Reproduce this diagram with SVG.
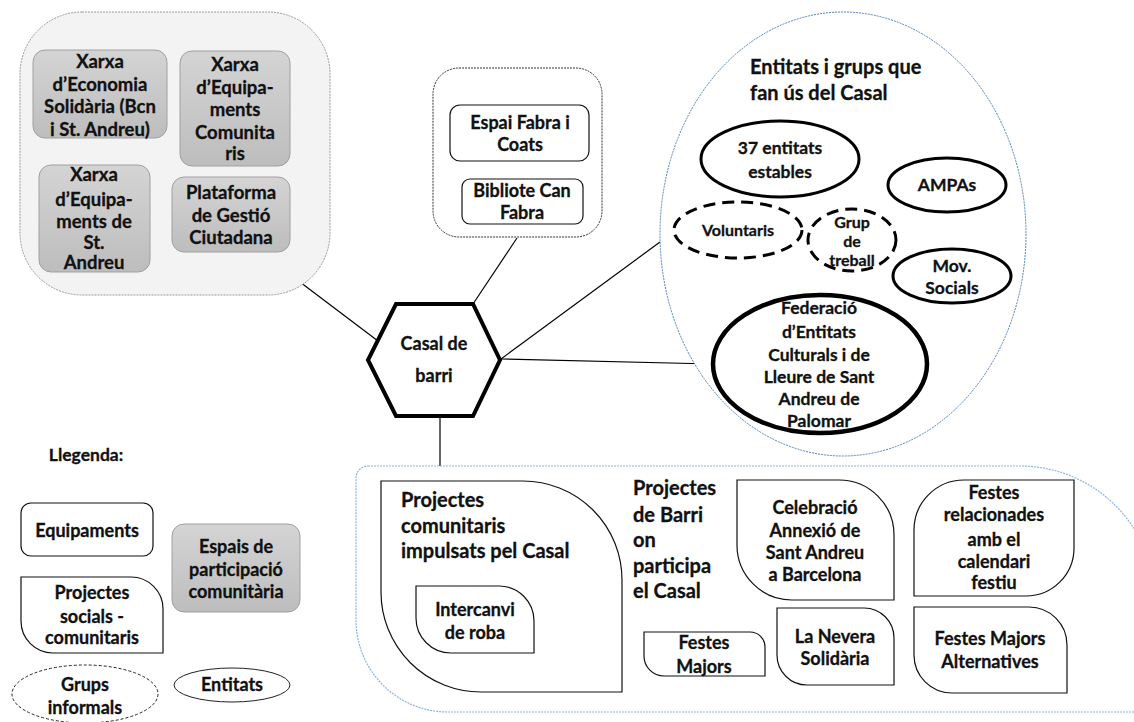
<svg xmlns="http://www.w3.org/2000/svg" width="1134" height="722" viewBox="0 0 1134 722">
<defs>
<linearGradient id="gray" x1="0" y1="0" x2="0" y2="1">
<stop offset="0" stop-color="#d4d4d4"/>
<stop offset="1" stop-color="#bdbdbd"/>
</linearGradient>
</defs>
<style>
text{font-family:Lato,"Liberation Sans",sans-serif;font-weight:bold;fill:#111;stroke:#111;stroke-width:0.3;text-anchor:middle}
.t16{font-size:16px}
.t175{font-size:17.5px}
.t18{font-size:18px}
.t185{font-size:18.5px}
.t20{font-size:20px}
.l{text-anchor:start}
.gbox{fill:url(#gray);stroke:#a0a0a0;stroke-width:1}
.wbox{fill:#fff;stroke:#111;stroke-width:1.2}
.thick{fill:#fff;stroke:#000;stroke-width:3}
.dash{fill:#fff;stroke:#000;stroke-width:3;stroke-dasharray:12 7}
.conn{stroke:#000;stroke-width:1.2;fill:none}
</style>
<rect width="1134" height="722" fill="#fff"/>

<g id="connectors">
<line class="conn" x1="292" y1="276" x2="378" y2="341"/>
<line class="conn" x1="517" y1="238" x2="473" y2="304"/>
<line class="conn" x1="501" y1="359" x2="660" y2="242"/>
<line class="conn" x1="501" y1="359" x2="712" y2="364"/>
<line class="conn" x1="440" y1="416" x2="440" y2="466"/>
</g>

<g id="xarxes">
<rect x="20" y="12" width="310" height="283" rx="62" fill="#f3f3f3" stroke="#9a9a9a" stroke-width="1" stroke-dasharray="2 1"/>
<g id="xarxa-economia">
<rect class="gbox" x="33" y="50" width="134" height="88" rx="12"/>
<text class="t185" x="100" y="68">Xarxa</text>
<text class="t185" x="100" y="91">d’Economia</text>
<text class="t185" x="100" y="113">Solidària (Bcn</text>
<text class="t185" x="100" y="136">i St. Andreu)</text>
</g>
<g id="xarxa-equip-comunitaris">
<rect class="gbox" x="180" y="51" width="110" height="115" rx="12"/>
<text class="t185" x="235" y="71">Xarxa</text>
<text class="t185" x="235" y="94">d’Equipa-</text>
<text class="t185" x="235" y="116">ments</text>
<text class="t185" x="235" y="139">Comunita</text>
<text class="t185" x="235" y="160">ris</text>
</g>
<g id="xarxa-equip-standreu">
<rect class="gbox" x="39" y="165" width="111" height="107" rx="12"/>
<text class="t185" x="94" y="181">Xarxa</text>
<text class="t185" x="94" y="206">d’Equipa-</text>
<text class="t185" x="94" y="228">ments de</text>
<text class="t185" x="94" y="249">St.</text>
<text class="t185" x="94" y="269">Andreu</text>
</g>
<g id="plataforma">
<rect class="gbox" x="172" y="177" width="118" height="75" rx="12"/>
<text class="t185" x="231" y="199">Plataforma</text>
<text class="t185" x="231" y="222">de Gestió</text>
<text class="t185" x="231" y="244">Ciutadana</text>
</g>
</g>

<g id="equipaments">
<rect x="433" y="68" width="169" height="169" rx="26" fill="#fff" stroke="#333" stroke-width="1" stroke-dasharray="2 1"/>
<g id="espai-fabra">
<rect class="wbox" x="450" y="105" width="139" height="56" rx="10"/>
<text class="t18" x="520" y="129">Espai Fabra i</text>
<text class="t18" x="520" y="151">Coats</text>
</g>
<g id="biblioteca">
<rect class="wbox" x="462" y="179" width="121" height="45" rx="8"/>
<text class="t18" x="522" y="197">Bibliote Can</text>
<text class="t18" x="522" y="219">Fabra</text>
</g>
</g>

<g id="casal">
<polygon points="396,304 473,304 500,360 473,416 396,416 368,360" fill="#fff" stroke="#000" stroke-width="4" stroke-linejoin="miter"/>
<text class="t18" x="434" y="350">Casal de</text>
<text class="t18" x="434" y="382">barri</text>
</g>

<g id="entitats">
<ellipse cx="843" cy="234" rx="183" ry="222" fill="#fff" stroke="#4f81bd" stroke-width="1" stroke-dasharray="2 1"/>
<text class="t20 l" x="750" y="74">Entitats i grups que</text>
<text class="t20 l" x="750" y="100">fan ús del Casal</text>
<g id="e37">
<ellipse class="thick" cx="780" cy="159" rx="79" ry="38"/>
<text class="t175" x="780" y="154">37 entitats</text>
<text class="t175" x="780" y="178">estables</text>
</g>
<g id="ampas">
<ellipse class="thick" cx="947" cy="185" rx="59" ry="27"/>
<text class="t175" x="947" y="191">AMPAs</text>
</g>
<g id="voluntaris">
<ellipse class="dash" cx="738" cy="230" rx="64" ry="28"/>
<text class="t16" x="738" y="236">Voluntaris</text>
</g>
<g id="grup-treball">
<ellipse class="dash" cx="852" cy="240" rx="44" ry="31"/>
<text class="t16" x="852" y="228">Grup</text>
<text class="t16" x="852" y="247">de</text>
<text class="t16" x="852" y="266">treball</text>
</g>
<g id="mov-socials">
<ellipse class="thick" cx="952" cy="276" rx="59" ry="27"/>
<text class="t175" x="952" y="272">Mov.</text>
<text class="t175" x="952" y="294">Socials</text>
</g>
<g id="federacio">
<ellipse cx="820" cy="364" rx="107" ry="69" fill="#fff" stroke="#000" stroke-width="4.5"/>
<text class="t175" x="819" y="314">Federació</text>
<text class="t175" x="819" y="338">d’Entitats</text>
<text class="t175" x="819" y="361">Culturals i de</text>
<text class="t175" x="819" y="383">Lleure de Sant</text>
<text class="t175" x="819" y="405">Andreu de</text>
<text class="t175" x="819" y="427">Palomar</text>
</g>
</g>

<g id="projectes">
<path d="M368,466 H1020 A135 135 0 0 1 1155 601 V712 H448 A92 92 0 0 1 356 620 V478 A12 12 0 0 1 368 466 Z" fill="#fff" stroke="#8db4e2" stroke-width="1.2" stroke-dasharray="2 1"/>
<g id="proj-casal">
<path class="wbox" d="M381,481 H523 A99 99 0 0 1 622 580 V692 H481 A100 100 0 0 1 381 592 Z"/>
<text class="t20 l" x="401" y="507">Projectes</text>
<text class="t20 l" x="401" y="533">comunitaris</text>
<text class="t20 l" x="401" y="558">impulsats pel Casal</text>
</g>
<g id="intercanvi">
<path class="wbox" d="M416,586 H499 A35 35 0 0 1 534 621 V653 H451 A35 35 0 0 1 416 618 Z"/>
<text class="t18" x="475" y="616">Intercanvi</text>
<text class="t18" x="475" y="639">de roba</text>
</g>
<text class="t20 l" x="633" y="495">Projectes</text>
<text class="t20 l" x="633" y="522">de Barri</text>
<text class="t20 l" x="633" y="547">on</text>
<text class="t20 l" x="633" y="573">participa</text>
<text class="t20 l" x="633" y="598">el Casal</text>
<g id="festes-majors">
<path class="wbox" d="M644,632 H750 A15 15 0 0 1 765 647 V676 H664 A20 20 0 0 1 644 656 Z"/>
<text class="t18" x="704" y="649">Festes</text>
<text class="t18" x="704" y="673">Majors</text>
</g>
<g id="celebracio">
<path class="wbox" d="M737,480 H839 A55 55 0 0 1 894 535 V600 H792 A55 55 0 0 1 737 545 Z"/>
<text class="t18" x="815" y="514">Celebració</text>
<text class="t18" x="815" y="537">Annexió de</text>
<text class="t18" x="815" y="559">Sant Andreu</text>
<text class="t18" x="815" y="581">a Barcelona</text>
</g>
<g id="festes-relacionades">
<path class="wbox" d="M964,480 H1074 V548 A48 48 0 0 1 1026 596 H914 V530 A50 50 0 0 1 964 480 Z"/>
<text class="t18" x="994" y="499">Festes</text>
<text class="t18" x="994" y="521">relacionades</text>
<text class="t18" x="994" y="546">amb el</text>
<text class="t18" x="994" y="568">calendari</text>
<text class="t18" x="994" y="589">festiu</text>
</g>
<g id="nevera">
<path class="wbox" d="M777,608 H864 A30 30 0 0 1 894 638 V685 H807 A30 30 0 0 1 777 655 Z"/>
<text class="t18" x="835" y="643">La Nevera</text>
<text class="t18" x="835" y="665">Solidària</text>
</g>
<g id="festes-alternatives">
<path class="wbox" d="M914,607 H1029 A38 38 0 0 1 1067 645 V693 H952 A38 38 0 0 1 914 655 Z"/>
<text class="t18" x="990" y="645">Festes Majors</text>
<text class="t18" x="990" y="668">Alternatives</text>
</g>
</g>

<g id="llegenda">
<text class="t175" x="86" y="461">Llegenda:</text>
<g id="leg-equipaments">
<rect class="wbox" x="21" y="503" width="132" height="53" rx="10"/>
<text class="t18" x="87" y="537">Equipaments</text>
</g>
<g id="leg-espais">
<rect class="gbox" x="172" y="524" width="128" height="88" rx="12"/>
<text class="t18" x="236" y="553">Espais de</text>
<text class="t18" x="236" y="576">participació</text>
<text class="t18" x="236" y="598">comunitària</text>
</g>
<g id="leg-projectes">
<path class="wbox" d="M21,577 H131 A32 32 0 0 1 163 609 V653 H53 A32 32 0 0 1 21 621 Z"/>
<text class="t18" x="92" y="599">Projectes</text>
<text class="t18" x="92" y="623">socials -</text>
<text class="t18" x="92" y="644">comunitaris</text>
</g>
<g id="leg-grups">
<ellipse cx="85" cy="694" rx="73" ry="29" fill="#fff" stroke="#222" stroke-width="1" stroke-dasharray="3 2"/>
<text class="t18" x="85" y="691">Grups</text>
<text class="t18" x="85" y="714">informals</text>
</g>
<g id="leg-entitats">
<ellipse cx="232" cy="685" rx="58" ry="17" fill="#fff" stroke="#222" stroke-width="1"/>
<text class="t18" x="232" y="691">Entitats</text>
</g>
</g>
</svg>
